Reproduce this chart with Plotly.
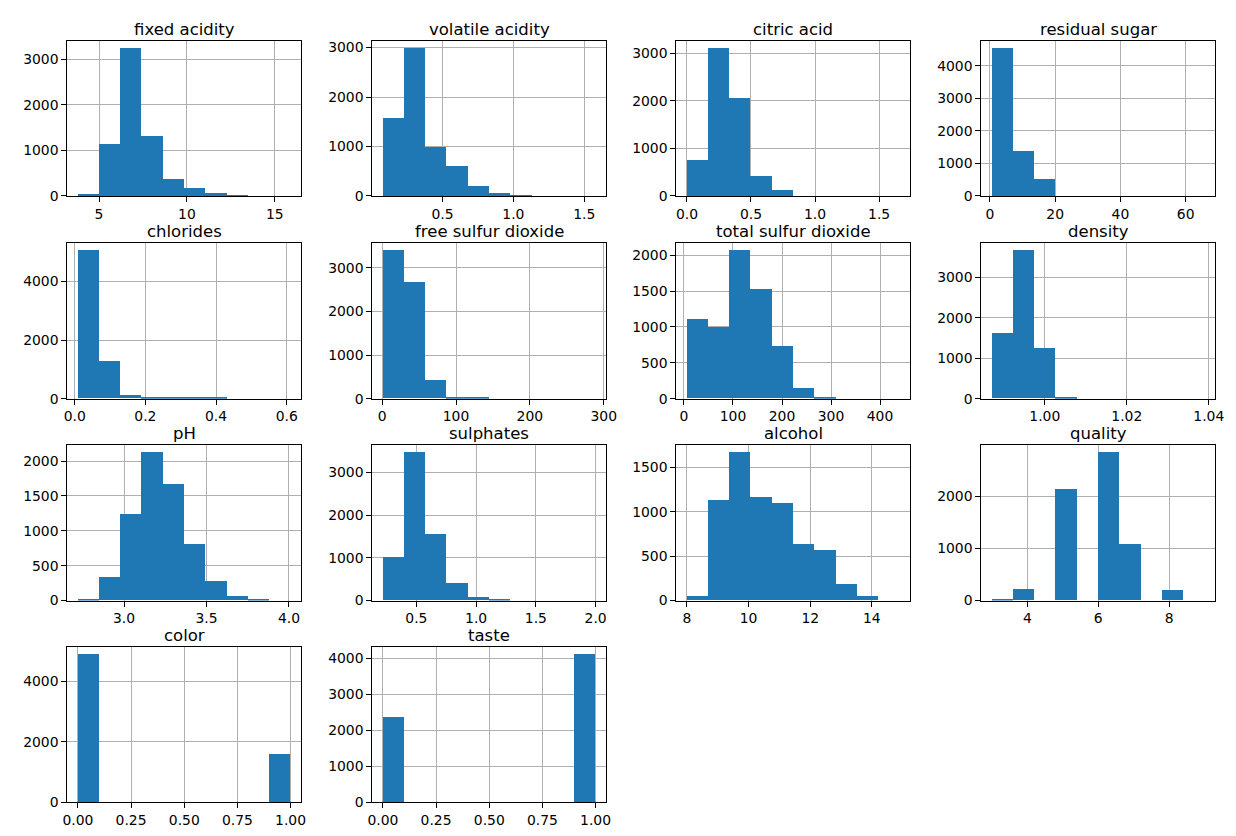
import numpy as np
import plotly.graph_objects as go

# ---- data: column names, bin ranges (data min/max) and counts of 10 equal bins ----
names = ["fixed acidity", "volatile acidity", "citric acid", "residual sugar",
         "chlorides", "free sulfur dioxide", "total sulfur dioxide", "density",
         "pH", "sulphates", "alcohol", "quality", "color", "taste"]

data_min = [3.8, 0.08, 0.0, 0.6, 0.009, 1, 6, 0.98711, 2.72, 0.22, 8.0, 3, 0, 0]
data_max = [15.9, 1.58, 1.66, 65.8, 0.611, 289, 440, 1.03898, 4.01, 2.0, 14.9, 9, 1, 1]

fixed_acidity = [50, 1150, 3240, 1330, 375, 180, 75, 25, 0, 0]
volatile_acidity = [1580, 2990, 990, 620, 215, 70, 25, 0, 0, 0]
citric_acid = [760, 3110, 2070, 420, 130, 0, 0, 0, 0, 0]
residual_sugar = [4550, 1400, 540, 0, 0, 0, 0, 0, 0, 0]
chlorides = [5050, 1290, 100, 25, 22, 20, 18, 0, 0, 0]
free_sulfur_dioxide = [3390, 2660, 410, 25, 15, 0, 0, 0, 0, 0]
total_sulfur_dioxide = [1100, 990, 2060, 1520, 725, 140, 15, 0, 0, 0]
density = [1610, 3660, 1250, 25, 0, 0, 0, 0, 0, 0]
pH = [20, 340, 1230, 2120, 1665, 810, 270, 60, 15, 0]
sulphates = [1020, 3460, 1550, 400, 80, 25, 0, 0, 0, 0]
alcohol = [45, 1130, 1665, 1160, 1090, 635, 565, 180, 45, 0]
quality = [30, 216, 0, 2138, 0, 2836, 1079, 0, 193, 0]
color = [4898, 0, 0, 0, 0, 0, 0, 0, 0, 1599]
taste = [2384, 0, 0, 0, 0, 0, 0, 0, 0, 4113]

counts = [fixed_acidity, volatile_acidity, citric_acid, residual_sugar, chlorides,
          free_sulfur_dioxide, total_sulfur_dioxide, density, pH, sulphates,
          alcohol, quality, color, taste]

x_dtick = [5, 0.5, 0.5, 20, 0.2, 100, 100, 0.02, 0.5, 0.5, 2, 2, 0.25, 0.25]
x_fmt = ["d", ".1f", ".1f", "d", ".1f", "d", "d", ".2f", ".1f", ".1f", "d", "d", ".2f", ".2f"]
y_dtick = [1000, 1000, 1000, 1000, 2000, 1000, 500, 1000, 500, 1000, 500, 1000, 2000, 1000]
y_max = [3240, 2990, 3110, 4550, 5050, 3390, 2060, 3660, 2120, 3460, 1665, 2836, 4898, 4113]

# ---- layout geometry (pixels) ----
W, H = 1236, 836
col_left = [55, 364, 672, 981]
col_w = 237
row_top = [32, 237, 441, 645]
row_h = 157

fig = go.Figure()
annotations = []
layout_axes = {}
for i, name in enumerate(names):
    r, c = divmod(i, 4)
    lo, hi = data_min[i], data_max[i]
    edges = np.linspace(lo, hi, 11)
    centers = (edges[:-1] + edges[1:]) / 2
    bw = edges[1] - edges[0]
    sfx = "" if i == 0 else str(i + 1)
    fig.add_trace(go.Bar(
        x=centers, y=counts[i], width=bw,
        marker=dict(color="#1f77b4", line=dict(width=0)),
        xaxis="x" + sfx, yaxis="y" + sfx, showlegend=False,
        hoverinfo="x+y"))
    x0 = col_left[c] / W
    x1 = (col_left[c] + col_w) / W
    y1 = 1 - row_top[r] / H
    y0 = 1 - (row_top[r] + row_h) / H
    pad = (hi - lo) * 0.05
    ymax = max(counts[i]) * 1.05
    common = dict(showline=True, linecolor="black", linewidth=1, mirror=True,
                  ticks="outside", ticklen=5, tickwidth=1, tickcolor="black",
                  showgrid=True, gridcolor="#b0b0b0", gridwidth=1,
                  zeroline=False, layer="above traces",
                  tickfont=dict(family="DejaVu Sans", size=13.9, color="black"))
    layout_axes["xaxis" + sfx] = dict(domain=[x0, x1], anchor="y" + sfx,
                                      range=[lo - pad, hi + pad], dtick=x_dtick[i],
                                      tick0=0, tickformat=x_fmt[i], **common)
    layout_axes["yaxis" + sfx] = dict(domain=[y0, y1], anchor="x" + sfx,
                                      range=[0, ymax], dtick=y_dtick[i], tick0=0,
                                      **common)
    annotations.append(dict(text=name, x=(x0 + x1) / 2, y=y1, xref="paper", yref="paper",
                            xanchor="center", yanchor="bottom", yshift=1, showarrow=False,
                            borderpad=0,
                            font=dict(family="DejaVu Sans", size=16.5, color="black")))

fig.update_layout(width=W, height=H, margin=dict(l=0, r=0, t=0, b=0),
                  paper_bgcolor="white", plot_bgcolor="white", bargap=0,
                  annotations=annotations, **layout_axes)
fig.write_html("out.html")
